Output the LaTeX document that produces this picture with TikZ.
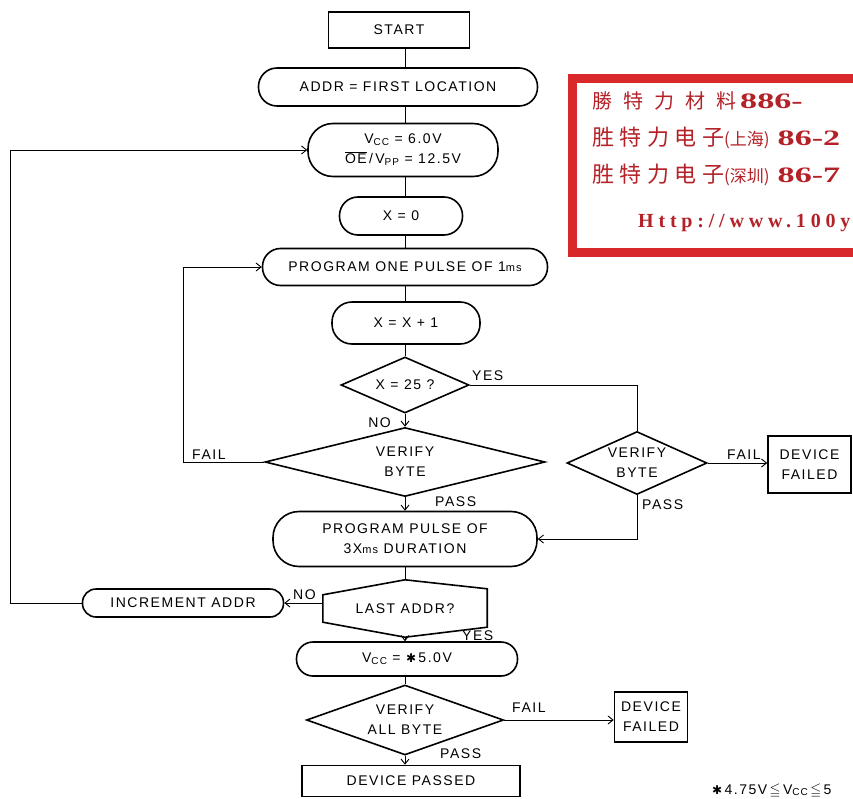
\documentclass[tikz,border=0pt]{standalone}
\usepackage{amssymb}
\usepackage{fontspec}
\setmainfont[LetterSpace=11]{Liberation Sans}
\newfontfamily\cjk{Noto Sans CJK SC}
\newfontfamily\serifb{Liberation Serif}
\newfontfamily\serifw[LetterSpace=24]{Liberation Serif}
\newfontfamily\dejavu{DejaVu Sans}
\usetikzlibrary{shapes.geometric,calc,arrows.meta}
\newcommand\flowfont{\fontsize{14}{20}\selectfont}
\newcommand\mysub[1]{\raisebox{-1.8pt}{\fontsize{10}{10}\selectfont #1}}
\newcommand\mysmall[1]{{\fontsize{11}{11}\selectfont #1}}
\newcommand\hast{{\dejavu\fontsize{12}{12}\selectfont ✱}}
\newcommand\widedigits[1]{\scalebox{1.55}[1]{\serifb\bfseries\fontsize{22}{22}\selectfont #1}}
\definecolor{stampred}{HTML}{D8282A}
\definecolor{stamptext}{HTML}{B42228}
\tikzset{
  box/.style={draw, line width=1.6pt, rectangle, inner sep=0pt, align=center, font=\flowfont},
  pill/.style={box, rounded corners=#1},
  pill/.default=17pt,
  dia/.style={draw, line width=1.6pt, diamond, inner sep=0pt, align=center, font=\flowfont},
  conn/.style={line width=0.9pt},
  arr/.style={conn, -{Straight Barb[length=5pt,width=8pt]}},
  lab/.style={font=\flowfont, inner sep=0pt}
}
\begin{document}
\begin{tikzpicture}[x=1pt,y=-1pt]
\useasboundingbox (0,0) rectangle (853,799);
\clip (0,0) rectangle (853,799);
\fill[white] (0,0) rectangle (853,799);

% stamp
\draw[stampred, line width=9pt] (572,79) rectangle (900,253);
\node[anchor=west, inner sep=0pt, text=stamptext] (s1) at (592,101)
  {\cjk\fontsize{20}{20}\selectfont 勝\hspace{11pt}特\hspace{11pt}力\hspace{11pt}材\hspace{11pt}料\hspace{4pt}\widedigits{886-}};
\node[anchor=west, inner sep=0pt, text=stamptext] (s2) at (592,138)
  {\cjk\fontsize{22}{22}\selectfont 胜\hspace{5.5pt}特\hspace{5.5pt}力\hspace{5.5pt}电\hspace{5.5pt}子{\fontsize{17}{17}\selectfont (上海)}\hspace{8pt}\widedigits{86-2}};
\node[anchor=west, inner sep=0pt, text=stamptext] (s3) at (592,175)
  {\cjk\fontsize{22}{22}\selectfont 胜\hspace{5.5pt}特\hspace{5.5pt}力\hspace{5.5pt}电\hspace{5.5pt}子{\fontsize{17}{17}\selectfont (深圳)}\hspace{8pt}\widedigits{86-7}};
\node[anchor=west, inner sep=0pt, text=stamptext] (s4) at (638,223)
  {\serifw\bfseries\fontsize{20}{20}\selectfont Http://www.100y};

% nodes
\node[box, minimum width=141pt, minimum height=36pt] (start) at (399,30) {START};
\node[pill=18.5pt, minimum width=279pt, minimum height=38pt] (addr) at (398,87) {ADDR = FIRST LOCATION};
\node[pill=25pt, minimum width=190pt, minimum height=53pt] (vcc) at (403,150)
  {V\mysub{CC} = 6.0V\\$\overline{\mbox{OE}}$\,/\,V\mysub{PP} = 12.5V};
\node[pill=18.5pt, minimum width=123pt, minimum height=38pt] (x0) at (401,216) {X = 0};
\node[pill=18pt, minimum width=285pt, minimum height=37pt] (prog1) at (405,267) {PROGRAM ONE PULSE OF 1\mysmall{ms}};
\node[pill=20pt, minimum width=148pt, minimum height=42pt] (xinc) at (406,323) {X = X + 1};
\node[dia, aspect=2.3, minimum width=128pt, minimum height=56pt] (x25) at (405,385) {X = 25 ?};
\node[dia, aspect=4, minimum width=280pt, minimum height=69pt] (ver) at (405,462) {VERIFY\\BYTE};
\node[pill=26pt, minimum width=264pt, minimum height=55pt] (prog3) at (405,539) {PROGRAM PULSE OF\\3X\mysmall{ms} DURATION};
\node[minimum width=164pt, minimum height=57pt, inner sep=0pt, font=\flowfont] (last) at (405,608.5) {LAST ADDR?};
\draw[line width=1.6pt] (last.north) -- ($(last.north east)+(0,9)$) -- ($(last.south east)+(0,-10)$)
  -- (last.south) -- ($(last.south west)+(0,-15)$) -- ($(last.north west)+(0,15)$) -- cycle;
\node[pill=13.5pt, minimum width=201pt, minimum height=28pt] (incr) at (183,603) {INCREMENT ADDR};
\node[pill=16.5pt, minimum width=221pt, minimum height=34pt] (vcc5) at (407,659) {V\mysub{CC} = \hast\,5.0V};
\node[dia, aspect=2.8, minimum width=197pt, minimum height=70pt] (vall) at (405,720) {VERIFY\\ALL BYTE};
\node[box, minimum width=218pt, minimum height=31pt] (passed) at (411,781) {DEVICE PASSED};
\node[box, minimum width=73pt, minimum height=50pt] (fail2) at (651,717) {DEVICE\\FAILED};
\node[dia, aspect=2.2, minimum width=140pt, minimum height=63pt] (ver2) at (637,463) {VERIFY\\BYTE};
\node[box, minimum width=83pt, minimum height=57pt] (fail1) at (809.5,464.5) {DEVICE\\FAILED};

% connectors
\coordinate (col) at (405,0);
\coordinate (lx) at (10,0);
\coordinate (fx) at (183,0);
\draw[conn] (start.south -| col) -- (addr.north -| col);
\draw[conn] (addr.south -| col) -- (vcc.north -| col);
\draw[conn] (vcc.south -| col) -- (x0.north -| col);
\draw[conn] (x0.south -| col) -- (prog1.north -| col);
\draw[conn] (prog1.south -| col) -- (xinc.north -| col);
\draw[conn] (xinc.south -| col) -- (x25.north);
\draw[arr] (x25.south) -- (ver.north);
\draw[arr] (ver.south) -- (prog3.north);
\draw[conn] (prog3.south) -- (last.north);
\draw[arr] (last.south) -- (vcc5.north -| last.south);
\draw[conn] (vcc5.south -| col) -- (vall.north);
\draw[arr] (vall.south) -- (passed.north -| vall.south);
\draw[arr] (incr.west) -- (incr.west -| lx) -- (vcc.west -| lx) -- (vcc.west);
\draw[arr] (ver.west) -- (ver.west -| fx) -- (prog1.west -| fx) -- (prog1.west);
\draw[conn] (x25.east) -- (x25.east -| ver2.north) -- (ver2.north);
\draw[arr] (ver2.south) -- (ver2.south |- prog3.east) -- (prog3.east);
\draw[arr] (ver2.east) -- (ver2.east -| fail1.west);
\draw[arr] (last.west |- incr.east) -- (incr.east);
\draw[arr] (vall.east) -- (vall.east -| fail2.west);

% labels
\node[lab, anchor=south west] (lyes1) at (472,381) {YES};
\node[lab, anchor=south east] (lno1) at (391,428) {NO};
\node[lab, anchor=south west] (lfail1) at (192,460) {FAIL};
\node[lab, anchor=south west] (lpass1) at (435,507) {PASS};
\node[lab, anchor=south west] (lpass2) at (642,510) {PASS};
\node[lab, anchor=south west] (lfail2) at (727,460) {FAIL};
\node[lab, anchor=south west] (lno2) at (293,600) {NO};
\node[lab, anchor=south west] (lyes2) at (462,641) {YES};
\node[lab, anchor=south west] (lfail3) at (512,713) {FAIL};
\node[lab, anchor=south west] (lpass3) at (440,759) {PASS};
\node[lab, anchor=base west] (foot) at (712,794) {\hast\,4.75V$\,\leqq\,$V\mysub{CC}$\,\leqq\,$5};
\end{tikzpicture}
\end{document}
